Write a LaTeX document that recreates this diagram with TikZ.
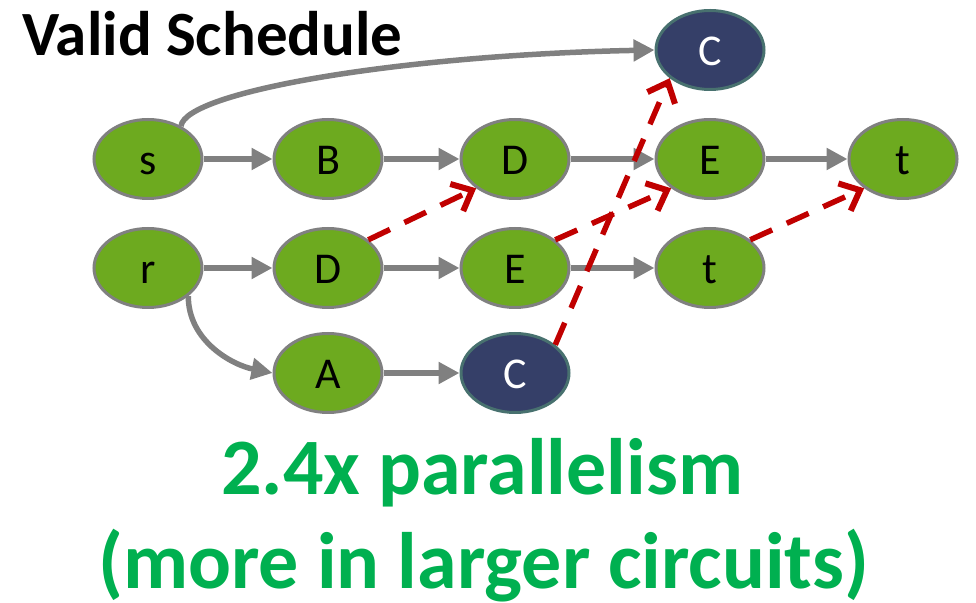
\documentclass[tikz,border=0pt]{standalone}
\usepackage{fontspec}
\setmainfont{Carlito}
\usetikzlibrary{shapes.geometric,arrows.meta}
\definecolor{nodegreen}{HTML}{6DAA1F}
\definecolor{edgegray}{HTML}{808080}
\definecolor{navy}{HTML}{353F68}
\definecolor{tealrim}{HTML}{48716F}
\definecolor{depred}{HTML}{C00000}
\definecolor{msgreen}{HTML}{00B050}

\begin{document}
\begin{tikzpicture}[x=1pt,y=1pt,
  task/.style={ellipse, draw=edgegray, line width=3pt, fill=nodegreen,
    minimum width=108pt, minimum height=79pt, inner sep=0pt,
    text height=31pt, text depth=0pt,
    font=\fontsize{44}{44}\selectfont},
  ctask/.style={task, fill=navy, draw=tealrim, text=white},
  flow/.style={draw=edgegray, line width=5.5pt, -{Triangle[length=21pt,width=21pt]}},
  dep/.style={draw=depred, line width=5.5pt, dash pattern=on 24pt off 16pt,
    -{Straight Barb[length=17pt,width=30pt,line width=6pt]}},
  caption/.style={anchor=base, inner sep=0pt, text=msgreen,
    font=\fontsize{80}{80}\selectfont\bfseries},
]
\useasboundingbox (0,0) rectangle (976,602);

% title
\node[anchor=base west, inner sep=0pt, font=\fontsize{63}{63}\selectfont\bfseries]
  (title) at (22,546) {Valid Schedule};

% tasks
\node[task]  (s)  at (148,443) {s};
\node[task]  (B)  at (328,443) {B};
\node[task]  (D1) at (515,443) {D};
\node[task]  (E1) at (710,443) {E};
\node[task]  (t1) at (903,443) {t};
\node[ctask] (C1) at (710,552) {C};
\node[task]  (r)  at (148,334) {r};
\node[task]  (D2) at (328,334) {D};
\node[task]  (E2) at (515,334) {E};
\node[task]  (t2) at (710,334) {t};
\node[task]  (A)  at (328,229) {A};
\node[ctask] (C2) at (515,229) {C};

% program order
\draw[flow] (s) -- (B);
\draw[flow] (B) -- (D1);
\draw[flow] (D1) -- (E1);
\draw[flow] (E1) -- (t1);
\draw[flow] (r) -- (D2);
\draw[flow] (D2) -- (E2);
\draw[flow] (E2) -- (t2);
\draw[flow] (A) -- (C2);
\draw[flow] (s.45) .. controls +(5,35) and +(-250,-5) .. (C1.west);
\draw[flow] (r.-35) .. controls +(0,-45) and +(-40,8) .. (A.west);

% dependencies
\draw[dep] (D2.35) -- (D1.217);
\draw[dep] (E2.35) -- (E1.217);
\draw[dep] (t2.35) -- (t1.217);
\draw[dep] (C2.35) -- (C1.215);

% captions
\node[caption] (l1) at (482,107) {2.4x parallelism};
\node[caption] (l2) at (484,14) {(more in larger circuits)};
\end{tikzpicture}
\end{document}
